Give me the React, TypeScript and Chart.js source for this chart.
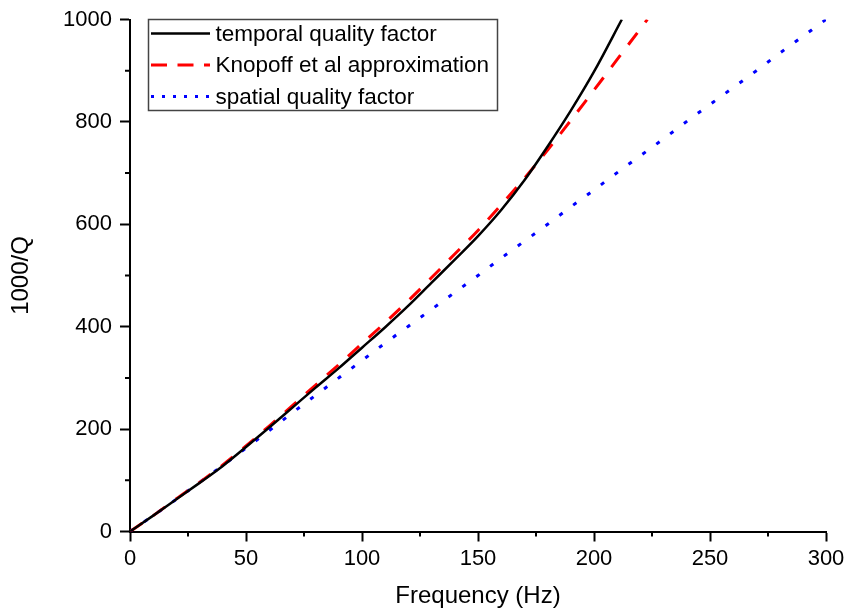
import React, { useEffect, useRef } from "react";
import { Chart, registerables } from "chart.js";

Chart.register(...registerables);

// Frequency grids (Hz)
const freqTemporal = [0, 10, 20, 30, 40, 50, 60, 70, 80, 90, 100, 110, 120, 130, 140, 150, 160, 170, 180, 190, 200, 212];
const temporalQ = [0, 31, 63, 95, 128, 165, 203, 242, 281, 319, 359, 399, 441, 486, 531, 577, 628, 686, 752, 822, 898, 1000];

const freqKnopoff = [0, 10, 20, 30, 40, 50, 60, 70, 80, 90, 100, 110, 120, 130, 140, 150, 160, 170, 180, 190, 200, 210, 220, 223];
const knopoffQ = [0, 31, 64, 96, 130, 167, 206, 246, 286, 326, 367, 408, 451, 496, 542, 588, 638, 690, 745, 803, 862, 922, 982, 1000];

const freqSpatial = [0, 10, 20, 30, 40, 50, 60, 70, 80, 90, 100, 110, 120, 130, 140, 150, 160, 170, 180, 190, 200, 210, 220, 230, 240, 250, 260, 270, 280, 290, 300];
const spatialQ = [0, 31, 63, 96, 129, 163, 197, 232, 266, 300, 334, 368, 401, 434, 467, 500, 534, 567, 600, 634, 667, 701, 734, 767, 801, 834, 867, 900, 934, 967, 1000];

const seriesLabels = ["temporal quality factor", "Knopoff et al approximation", "spatial quality factor"];
const xMinorTicks = [25, 75, 125, 175, 225, 275];
const yMinorTicks = [100, 300, 500, 700, 900];

const FONT = "'Liberation Sans', Arial, Helvetica, sans-serif";

const toXY = (xs: number[], ys: number[]) => xs.map((x, i) => ({ x, y: ys[i] }));

const minorTicksAndLegend = {
  id: "minorTicksAndLegend",
  afterDraw(chart: any) {
    const { ctx, scales, chartArea } = chart;
    const xs = scales.x;
    const ys = scales.y;
    ctx.save();
    ctx.strokeStyle = "#000";
    ctx.lineWidth = 2;
    ctx.beginPath();
    xMinorTicks.forEach((v) => {
      const px = xs.getPixelForValue(v);
      ctx.moveTo(px, chartArea.bottom);
      ctx.lineTo(px, chartArea.bottom + 5);
    });
    yMinorTicks.forEach((v) => {
      const py = ys.getPixelForValue(v);
      ctx.moveTo(chartArea.left, py);
      ctx.lineTo(chartArea.left - 5, py);
    });
    ctx.stroke();

    // Legend box
    const bx = 148.5, by = 19.5, bw = 349, bh = 91;
    ctx.fillStyle = "#fff";
    ctx.fillRect(bx, by, bw, bh);
    ctx.strokeStyle = "#444";
    ctx.lineWidth = 1.5;
    ctx.strokeRect(bx, by, bw, bh);
    const rows = [33.5, 65, 96.5];
    const styles = [
      { color: "#000", dash: [] as number[], width: 2.5 },
      { color: "#ff0000", dash: [16, 10.5], width: 3 },
      { color: "#0000ff", dash: [3, 8], width: 3 },
    ];
    chart.data.datasets.forEach((ds: any, i: number) => {
      const st = styles[i];
      ctx.beginPath();
      ctx.strokeStyle = st.color;
      ctx.lineWidth = st.width;
      ctx.setLineDash(st.dash);
      ctx.moveTo(151, rows[i]);
      ctx.lineTo(210, rows[i]);
      ctx.stroke();
      ctx.setLineDash([]);
      ctx.fillStyle = "#000";
      ctx.font = `22.5px ${FONT}`;
      ctx.textBaseline = "middle";
      ctx.textAlign = "left";
      ctx.fillText(ds.label, 215.5, rows[i] + 1);
    });
    ctx.restore();
  },
};

export default function App() {
  const ref = useRef<HTMLCanvasElement>(null);
  useEffect(() => {
    if (!ref.current) return;
    const chart = new Chart(ref.current, {
      type: "line",
      data: {
        datasets: [
          {
            label: seriesLabels[0],
            data: toXY(freqTemporal, temporalQ),
            borderColor: "#000",
            borderWidth: 2.5,
            pointRadius: 0,
            cubicInterpolationMode: "monotone",
          },
          {
            label: seriesLabels[1],
            data: toXY(freqKnopoff, knopoffQ),
            borderColor: "#ff0000",
            borderWidth: 3,
            borderDash: [15, 13],
            pointRadius: 0,
            cubicInterpolationMode: "monotone",
          },
          {
            label: seriesLabels[2],
            data: toXY(freqSpatial, spatialQ),
            borderColor: "#0000ff",
            borderWidth: 3,
            borderDash: [4, 13.2],
            pointRadius: 0,
            cubicInterpolationMode: "monotone",
          },
        ],
      },
      options: {
        responsive: false,
        animation: false,
        layout: { padding: { top: 19.5, right: 19, left: 0, bottom: 0 } },
        plugins: { legend: { display: false }, tooltip: { enabled: false } },
        scales: {
          x: {
            type: "linear",
            min: 0,
            max: 300,
            afterFit: (s: any) => {
              s.height = 612 - 531.5;
              s.paddingRight = 0;
              s.paddingLeft = 0;
            },
            border: { display: true, color: "#000", width: 2 },
            grid: { display: true, drawOnChartArea: false, drawTicks: true, tickLength: 10, tickWidth: 2, tickColor: "#000" },
            ticks: { stepSize: 50, color: "#000", padding: 4, font: { family: FONT, size: 22 }, callback: (v: any) => String(v) },
            title: { display: true, text: "Frequency (Hz)", color: "#000", font: { family: FONT, size: 24 }, padding: { top: 0, bottom: 1 } },
          },
          y: {
            type: "linear",
            min: 0,
            max: 1000,
            afterFit: (s: any) => {
              s.width = 130;
              s.paddingTop = 0;
              s.paddingBottom = 0;
            },
            border: { display: true, color: "#000", width: 2 },
            grid: { display: true, drawOnChartArea: false, drawTicks: true, tickLength: 10, tickWidth: 2, tickColor: "#000" },
            ticks: { stepSize: 200, color: "#000", padding: 8, font: { family: FONT, size: 22 }, callback: (v: any) => String(v) },
            title: { display: true, text: "1000/Q", color: "#000", font: { family: FONT, size: 24 }, padding: { top: 7, bottom: 0 } },
          },
        },
      },
      plugins: [minorTicksAndLegend],
    });
    return () => chart.destroy();
  }, []);
  return (
    <div style={{ position: "fixed", left: 0, top: 0, width: 845, height: 612, background: "#fff" }}>
      <canvas ref={ref} width={845} height={612} />
    </div>
  );
}
